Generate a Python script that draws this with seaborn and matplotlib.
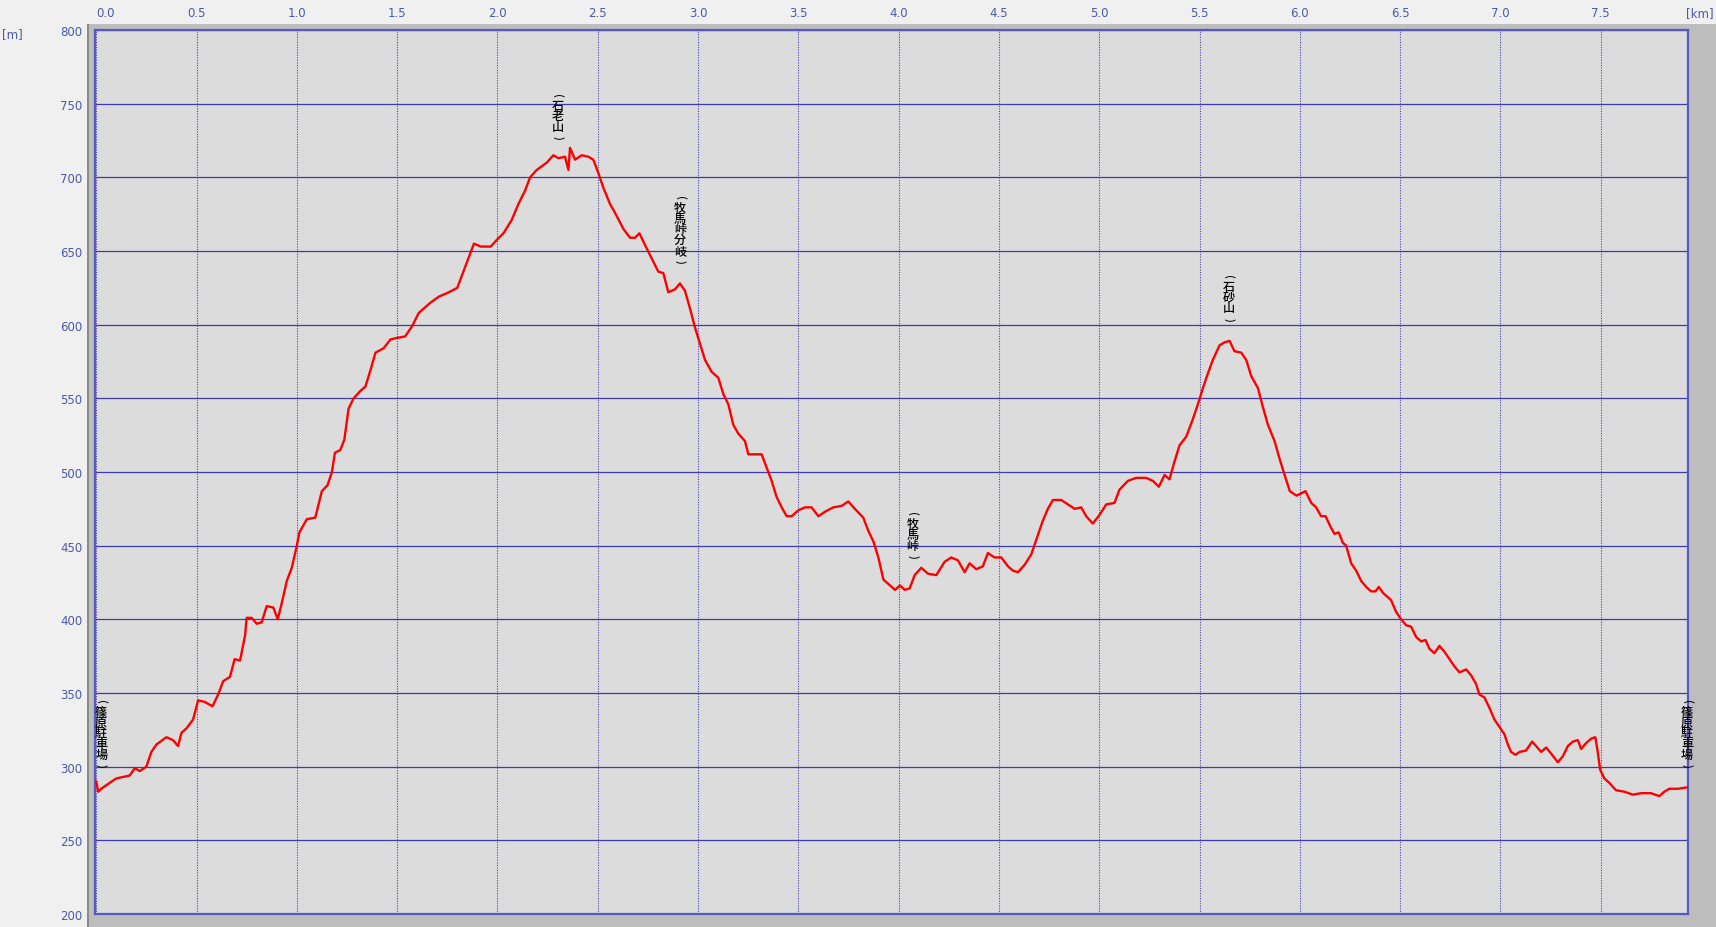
import numpy as np
import pandas as pd
import matplotlib
matplotlib.use("Agg")
import matplotlib.pyplot as plt
from matplotlib.patches import Rectangle
import seaborn as sns

# ---------------- data ----------------
distance_km = [
    0.000, 0.010, 0.025, 0.067, 0.100, 0.167, 0.192, 0.217, 0.250, 0.275,
    0.300, 0.350, 0.383, 0.408, 0.425, 0.450, 0.483, 0.508, 0.540, 0.580,
    0.608, 0.633, 0.667, 0.690, 0.717, 0.742, 0.750, 0.775, 0.800, 0.825,
    0.850, 0.883, 0.905, 0.925, 0.950, 0.975, 1.000, 1.013, 1.050, 1.092,
    1.125, 1.153, 1.175, 1.190, 1.217, 1.237, 1.258, 1.283, 1.317, 1.342,
    1.367, 1.392, 1.433, 1.467, 1.500, 1.540, 1.575, 1.608, 1.633, 1.667,
    1.708, 1.758, 1.800, 1.825, 1.858, 1.883, 1.917, 1.967, 2.000, 2.030,
    2.071, 2.105, 2.138, 2.163, 2.196, 2.246, 2.279, 2.304, 2.337, 2.354,
    2.362, 2.387, 2.420, 2.453, 2.478, 2.503, 2.528, 2.561, 2.586, 2.628,
    2.661, 2.686, 2.708, 2.736, 2.769, 2.802, 2.827, 2.852, 2.885, 2.910,
    2.935, 2.960, 2.985, 3.010, 3.035, 3.068, 3.101, 3.126, 3.151, 3.176,
    3.201, 3.234, 3.251, 3.284, 3.317, 3.342, 3.367, 3.392, 3.417, 3.442,
    3.467, 3.500, 3.533, 3.566, 3.600, 3.633, 3.674, 3.716, 3.749, 3.782,
    3.824, 3.849, 3.874, 3.899, 3.924, 3.957, 3.982, 4.007, 4.030, 4.055,
    4.080, 4.113, 4.146, 4.188, 4.229, 4.262, 4.296, 4.329, 4.354, 4.387,
    4.420, 4.445, 4.478, 4.512, 4.545, 4.570, 4.595, 4.628, 4.661, 4.686,
    4.719, 4.744, 4.769, 4.811, 4.844, 4.877, 4.910, 4.935, 4.968, 5.002,
    5.035, 5.076, 5.101, 5.143, 5.184, 5.234, 5.267, 5.297, 5.326, 5.350,
    5.375, 5.400, 5.434, 5.467, 5.492, 5.517, 5.542, 5.566, 5.600, 5.625,
    5.650, 5.674, 5.708, 5.733, 5.758, 5.791, 5.816, 5.841, 5.874, 5.899,
    5.924, 5.950, 5.983, 6.000, 6.028, 6.057, 6.081, 6.106, 6.128, 6.156,
    6.173, 6.194, 6.214, 6.231, 6.256, 6.281, 6.306, 6.331, 6.355, 6.377,
    6.394, 6.414, 6.439, 6.455, 6.480, 6.505, 6.530, 6.555, 6.580, 6.605,
    6.626, 6.646, 6.671, 6.696, 6.721, 6.746, 6.771, 6.796, 6.829, 6.854,
    6.879, 6.895, 6.920, 6.945, 6.970, 6.995, 7.020, 7.037, 7.053, 7.075,
    7.095, 7.128, 7.158, 7.178, 7.203, 7.228, 7.252, 7.286, 7.311, 7.336,
    7.361, 7.386, 7.402, 7.427, 7.452, 7.473, 7.485, 7.497, 7.518, 7.543,
    7.576, 7.618, 7.660, 7.701, 7.751, 7.792, 7.817, 7.842, 7.884, 7.933,
]
elevation_m = [
    290, 283, 285, 289, 292, 294, 299, 297, 300, 310,
    315, 320, 318, 314, 323, 326, 332, 345, 344, 341,
    349, 358, 361, 373, 372, 389, 401, 401, 397, 398,
    409, 408, 400, 411, 426, 435, 450, 459, 468, 469,
    487, 491, 500, 513, 515, 522, 543, 550, 555, 558,
    569, 581, 584, 590, 591, 592, 599, 608, 611, 615,
    619, 622, 625, 634, 646, 655, 653, 653, 658, 662,
    671, 682, 691, 700, 705, 710, 715, 713, 714, 705,
    720, 712, 715, 714, 712, 703, 693, 682, 676, 665,
    659, 659, 662, 654, 645, 636, 635, 622, 624, 628,
    623, 611, 598, 587, 576, 568, 564, 553, 546, 532,
    526, 521, 512, 512, 512, 503, 494, 483, 476, 470,
    470, 474, 476, 476, 470, 473, 476, 477, 480, 475,
    469, 460, 453, 442, 427, 423, 420, 423, 420, 421,
    430, 435, 431, 430, 439, 442, 440, 432, 438, 434,
    436, 445, 442, 442, 436, 433, 432, 437, 444, 454,
    467, 475, 481, 481, 478, 475, 476, 470, 465, 471,
    478, 479, 488, 494, 496, 496, 494, 490, 498, 495,
    507, 518, 524, 536, 546, 557, 567, 576, 586, 588,
    589, 582, 581, 576, 565, 557, 544, 532, 521, 509,
    498, 487, 484, 485, 487, 479, 476, 470, 470, 462,
    458, 459, 452, 450, 438, 433, 426, 422, 419, 419,
    422, 418, 415, 413, 405, 400, 396, 395, 388, 385,
    386, 380, 377, 382, 378, 373, 368, 364, 366, 362,
    356, 349, 347, 340, 332, 327, 322, 315, 310, 308,
    310, 311, 317, 314, 310, 313, 309, 303, 307, 314,
    317, 318, 312, 316, 319, 320, 310, 298, 292, 289,
    284, 283, 281, 282, 282, 280, 283, 285, 285, 286,
]

waypoint_names = ["篠原駐車場", "石老山", "牧馬峠分岐", "牧馬峠", "石砂山", "篠原駐車場"]
waypoint_km = [0.0, 2.30, 2.91, 4.07, 5.646, 7.93]
waypoint_m = [286, 712, 628, 428, 589, 286]

x_ticks = [0.0, 0.5, 1.0, 1.5, 2.0, 2.5, 3.0, 3.5, 4.0, 4.5, 5.0, 5.5, 6.0, 6.5, 7.0, 7.5]
y_ticks = [200, 250, 300, 350, 400, 450, 500, 550, 600, 650, 700, 750, 800]

# ---------------- figure ----------------
W, H = 1716, 928
plt.rcParams["font.family"] = ["DejaVu Sans", "Noto Sans CJK JP"]
fig = plt.figure(figsize=(W / 100, H / 100), dpi=100, facecolor="#f0f0f0")

# gray frame panel behind the plot area
fig.patches.append(Rectangle((87 / W, 0), (W - 87) / W, (H - 25) / H,
                             transform=fig.transFigure, facecolor="#bdbdbd",
                             edgecolor="none", zorder=-2))
fig.patches.append(Rectangle((87 / W, 0), 2 / W, (H - 25) / H,
                             transform=fig.transFigure, facecolor="#8a8a8a",
                             edgecolor="none", zorder=-1))

ax = fig.add_axes([95 / W, 1 - 915 / H, (1688 - 95) / W, (915 - 31) / H])
ax.set_zorder(2)
ax.set_facecolor("#dcdcdc")

df = pd.DataFrame({"km": distance_km, "m": elevation_m})
sns.lineplot(data=df, x="km", y="m", color="#ff0000", linewidth=1.7,
             ax=ax, zorder=5, estimator=None, sort=False)

ax.set_xlim(-0.006, 7.935)
ax.set_ylim(200, 800)
ax.set_xlabel("")
ax.set_ylabel("")

ax.set_xticks(x_ticks)
ax.set_xticklabels([f"{v:.1f}" for v in x_ticks])
ax.set_yticks(y_ticks)
ax.set_yticklabels([str(v) for v in y_ticks])
ax.xaxis.tick_top()
tick_color = "#4a5aa6"
ax.tick_params(axis="x", length=0, pad=8, labelsize=8.5, labelcolor=tick_color)
ax.tick_params(axis="y", length=0, pad=9, labelsize=8.5, labelcolor=tick_color)
ax.get_xticklabels()[0].set_horizontalalignment("left")

ax.yaxis.grid(True, color="#3c3cb0", linewidth=0.9, linestyle="-", zorder=1)
ax.xaxis.grid(True, color="#4444b4", linewidth=0.8, linestyle=(0, (1, 1.3)), zorder=1)
ax.set_axisbelow(True)
for s in ax.spines.values():
    s.set_color("#5858c2")
    s.set_linewidth(1.6)

fig.text(2 / W, 1 - 35 / H, "[m]", color=tick_color, fontsize=8.5,
         ha="left", va="center")
fig.text(1714 / W, 1 - 14 / H, "[km]", color=tick_color, fontsize=8.5,
         ha="right", va="center")

# vertical waypoint labels (one glyph per line)
label_dx_px = [5, 0, 0, 0, 0, 0]
pitch_px = 10.7
gap_px = 17
px2pt = 72 / 100
for name, xk, em, dx in zip(waypoint_names, waypoint_km, waypoint_m, label_dx_px):
    glyphs = ["(", *list(name), ")"]
    n = len(glyphs)
    for i, g in enumerate(glyphs):
        up = gap_px + pitch_px / 2 + (n - 1 - i) * pitch_px
        is_paren = g in "()"
        ax.annotate(g, xy=(xk, em), xytext=(dx * px2pt, up * px2pt),
                    textcoords="offset points", ha="center", va="center",
                    fontsize=8.0 if is_paren else 8.7,
                    rotation=-90 if is_paren else 0,
                    family=["Noto Sans CJK JP", "DejaVu Sans"],
                    fontweight="medium",
                    color="#000000", zorder=6, annotation_clip=False)

fig.savefig("out.png", dpi=100, facecolor=fig.get_facecolor())
